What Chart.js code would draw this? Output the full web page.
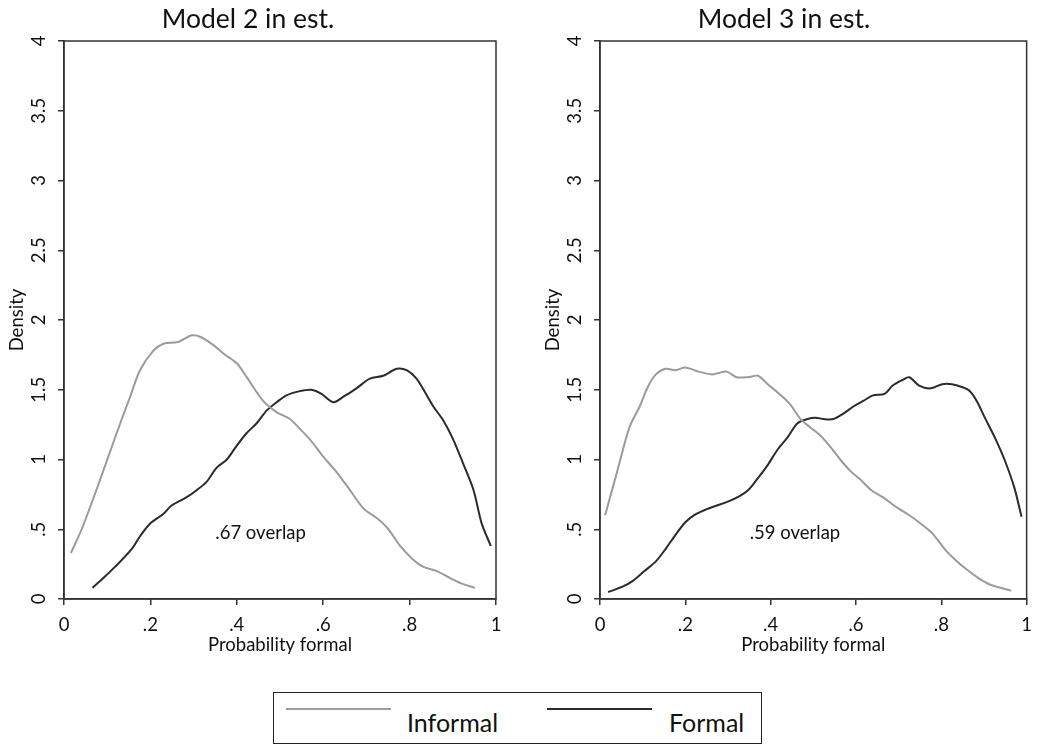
<!DOCTYPE html>
<html>
<head>
<meta charset="utf-8">
<script src="https://cdn.jsdelivr.net/npm/chart.js@4.4.1/dist/chart.umd.min.js"></script>
<style>
  html, body { margin: 0; padding: 0; background: #fff; }
  body { width: 1041px; height: 744px; position: relative; overflow: hidden; font-family: Lato, "Open Sans", sans-serif; }
  .wrap { position: absolute; top: 0; height: 680px; }
  #legend { position: absolute; left: 273px; top: 692px; width: 489px; height: 52px; box-sizing: border-box; border: 1.5px solid #222; }
  .lkey { position: absolute; height: 2px; }
  .ltxt { position: absolute; font-size: 25px; color: #111; line-height: 1; }
</style>
</head>
<body>
<div class="wrap" style="left:0;width:520px"><canvas id="c1" width="520" height="680"></canvas></div>
<div class="wrap" style="left:520px;width:521px"><canvas id="c2" width="521" height="680"></canvas></div>
<div id="legend">
  <div class="lkey" id="k1" style="left:12px;top:15px;width:105px"></div>
  <div class="ltxt" id="t1" style="left:133px;top:17px"></div>
  <div class="lkey" id="k2" style="left:273px;top:15px;width:105px"></div>
  <div class="ltxt" id="t2" style="left:395px;top:17px"></div>
</div>
<script>
// ---------- data ----------
const seriesNames = ['Informal', 'Formal'];
const chartTitles = ['Model 2 in est.', 'Model 3 in est.'];
const overlapText = ['.67 overlap', '.59 overlap'];
const overlapX = [0.455, 0.457];
const overlapY = [0.47, 0.47];
const xTickLabels = ['0', '.2', '.4', '.6', '.8', '1'];
const yTickLabels = ['0', '.5', '1', '1.5', '2', '2.5', '3', '3.5', '4'];
const xAxisTitle = 'Probability formal';
const yAxisTitle = 'Density';

// Model 2
const m2InformalX = [0.016,0.041,0.083,0.122,0.153,0.176,0.207,0.230,0.261,0.276,0.296,0.315,0.346,0.369,0.400,0.423,0.461,0.492,0.523,0.546,0.573,0.600,0.631,0.662,0.693,0.724,0.751,0.778,0.809,0.832,0.863,0.894,0.921,0.951];
const m2InformalY = [0.33,0.50,0.85,1.19,1.45,1.64,1.78,1.83,1.84,1.86,1.89,1.88,1.82,1.76,1.69,1.59,1.42,1.34,1.29,1.22,1.13,1.02,0.91,0.78,0.65,0.58,0.50,0.38,0.28,0.23,0.20,0.15,0.11,0.08];
const m2FormalX = [0.066,0.091,0.118,0.157,0.176,0.199,0.230,0.249,0.284,0.307,0.330,0.353,0.377,0.400,0.423,0.446,0.469,0.492,0.515,0.546,0.573,0.596,0.623,0.647,0.677,0.708,0.739,0.770,0.793,0.816,0.836,0.855,0.878,0.900,0.924,0.948,0.967,0.988];
const m2FormalY = [0.08,0.15,0.23,0.36,0.45,0.54,0.61,0.67,0.73,0.78,0.84,0.94,1.00,1.10,1.19,1.26,1.35,1.41,1.46,1.49,1.50,1.47,1.41,1.45,1.51,1.58,1.60,1.65,1.64,1.58,1.48,1.38,1.28,1.15,0.97,0.78,0.54,0.38];

// Model 3
const m3InformalX = [0.012,0.039,0.069,0.093,0.112,0.131,0.154,0.177,0.200,0.231,0.262,0.278,0.297,0.320,0.347,0.370,0.393,0.424,0.447,0.470,0.493,0.517,0.540,0.563,0.586,0.609,0.636,0.663,0.694,0.725,0.756,0.779,0.810,0.833,0.856,0.887,0.917,0.964];
const m3InformalY = [0.60,0.90,1.23,1.38,1.52,1.61,1.65,1.64,1.66,1.63,1.61,1.62,1.63,1.59,1.59,1.60,1.54,1.46,1.39,1.29,1.23,1.17,1.09,1.00,0.92,0.86,0.78,0.73,0.66,0.60,0.53,0.47,0.35,0.28,0.22,0.15,0.10,0.06];
const m3FormalX = [0.019,0.054,0.077,0.104,0.131,0.154,0.177,0.200,0.220,0.247,0.274,0.301,0.328,0.347,0.366,0.393,0.416,0.440,0.463,0.486,0.505,0.524,0.547,0.571,0.594,0.617,0.640,0.667,0.686,0.709,0.725,0.748,0.775,0.802,0.825,0.848,0.867,0.883,0.902,0.925,0.948,0.971,0.988];
const m3FormalY = [0.05,0.09,0.13,0.20,0.27,0.36,0.46,0.55,0.60,0.64,0.67,0.70,0.74,0.78,0.85,0.96,1.07,1.16,1.26,1.29,1.30,1.29,1.29,1.33,1.38,1.42,1.46,1.47,1.53,1.57,1.59,1.53,1.51,1.54,1.54,1.52,1.49,1.42,1.30,1.16,1.00,0.80,0.59];

// ---------- styles ----------
const informalColor = '#9b9b9b';
const formalColor = '#2b2b2b';
const axisColor = '#333333';
const textColor = '#111111';
const FONT = 'Lato, "Open Sans", sans-serif';
const SMALL = 18.5;

function pts(xs, ys) { return xs.map((x, i) => ({ x: x, y: ys[i] })); }

const frameAndNote = {
  id: 'frameAndNote',
  afterDatasetsDraw(chart, args, opts) {
    const { ctx, chartArea: a, scales } = chart;
    ctx.save();
    ctx.strokeStyle = axisColor;
    ctx.lineWidth = 1.5;
    ctx.strokeRect(a.left, a.top, a.right - a.left, a.bottom - a.top);
    ctx.fillStyle = textColor;
    ctx.font = SMALL + 'px ' + FONT;
    ctx.textAlign = 'center';
    ctx.textBaseline = 'middle';
    ctx.fillText(opts.text, scales.x.getPixelForValue(opts.x), scales.y.getPixelForValue(opts.y));
    ctx.restore();
  }
};

function makeChart(id, idx, infX, infY, forX, forY, padLeft, padRight) {
  return new Chart(document.getElementById(id), {
    type: 'scatter',
    data: {
      datasets: [
        { label: seriesNames[0], data: pts(infX, infY), showLine: true, borderColor: informalColor, borderWidth: 2, pointRadius: 0, tension: 0.3, fill: false },
        { label: seriesNames[1], data: pts(forX, forY), showLine: true, borderColor: formalColor, borderWidth: 2, pointRadius: 0, tension: 0.3, fill: false }
      ]
    },
    options: {
      responsive: false,
      animation: false,
      events: [],
      layout: { padding: { left: padLeft, right: padRight, top: 0, bottom: 19 } },
      plugins: {
        legend: { display: false },
        tooltip: { enabled: false },
        title: { display: true, text: chartTitles[idx], color: textColor, font: { family: FONT, size: 26.5, weight: 'normal', lineHeight: 1.2 }, padding: { top: 4, bottom: 5.2 } },
        frameAndNote: { text: overlapText[idx], x: overlapX[idx], y: overlapY[idx] }
      },
      scales: {
        x: {
          type: 'linear', min: 0, max: 1,
          afterBuildTicks: s => { s.ticks = xTickLabels.map((l, i) => ({ value: i * 0.2 })); },
          afterFit: s => { s.height = 62; },
          ticks: { callback: (v, i) => xTickLabels[i], color: textColor, font: { family: FONT, size: SMALL }, padding: 9, maxRotation: 0, minRotation: 0 },
          grid: { display: true, drawOnChartArea: false, drawTicks: true, tickLength: 6, color: axisColor, lineWidth: 1.5 },
          border: { display: true, color: axisColor, width: 1.5 },
          title: { display: true, text: xAxisTitle, color: textColor, font: { family: FONT, size: SMALL, lineHeight: 1.2 }, padding: { top: 0, bottom: 5 } }
        },
        y: {
          type: 'linear', min: 0, max: 4,
          afterBuildTicks: s => { s.ticks = yTickLabels.map((l, i) => ({ value: i * 0.5 })); },
          afterFit: s => { s.width = 64; },
          ticks: { callback: (v, i) => yTickLabels[i], color: textColor, font: { family: FONT, size: SMALL }, padding: 6, minRotation: 90, maxRotation: 90, crossAlign: 'center' },
          grid: { display: true, drawOnChartArea: false, drawTicks: true, tickLength: 6, color: axisColor, lineWidth: 1.5 },
          border: { display: true, color: axisColor, width: 1.5 },
          title: { display: true, text: yAxisTitle, color: textColor, font: { family: FONT, size: SMALL, lineHeight: 1.2 }, padding: { top: 5.9, bottom: 0 } }
        }
      }
    },
    plugins: [frameAndNote]
  });
}

makeChart('c1', 0, m2InformalX, m2InformalY, m2FormalX, m2FormalY, 0, 24);
makeChart('c2', 1, m3InformalX, m3InformalY, m3FormalX, m3FormalY, 16, 9);

// legend
document.getElementById('k1').style.background = informalColor;
document.getElementById('k2').style.background = formalColor;
document.getElementById('t1').textContent = seriesNames[0];
document.getElementById('t2').textContent = seriesNames[1];
</script>
</body>
</html>
